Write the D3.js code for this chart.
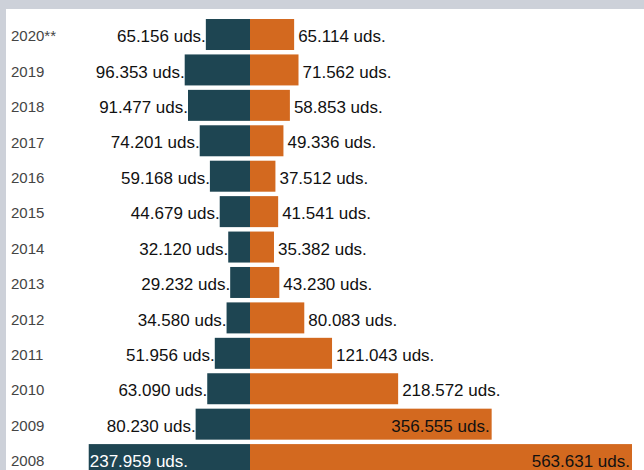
<!DOCTYPE html>
<html>
<head>
<meta charset="utf-8">
<script src="https://cdn.jsdelivr.net/npm/d3@7"></script>
<style>
  html, body { margin: 0; padding: 0; background: #cdd1d9; }
  svg { display: block; }
  text { font-family: "Liberation Sans", Arial, sans-serif; }
</style>
</head>
<body>
<svg id="chart" width="644" height="470"></svg>
<script>
const years = ['2020**', '2019', '2018', '2017', '2016', '2015', '2014', '2013', '2012', '2011', '2010', '2009', '2008'];
const leftValues = [65156, 96353, 91477, 74201, 59168, 44679, 32120, 29232, 34580, 51956, 63090, 80230, 237959];
const rightValues = [65114, 71562, 58853, 49336, 37512, 41541, 35382, 43230, 80083, 121043, 218572, 356555, 563631];

const darkColor = '#1e4552';
const orangeColor = '#d3691f';
const centerX = 250;

const rows = years.map((year, i) => ({ year, left: leftValues[i], right: rightValues[i] }));

const fmt = v => d3.format(',')(v).replace(/,/g, '.') + ' uds.';

const svg = d3.select('#chart');

// white panel
svg.append('rect')
  .attr('x', 6).attr('y', 9)
  .attr('width', 644).attr('height', 470)
  .attr('fill', '#fff');

const y = d3.scaleBand()
  .domain(years)
  .range([16.8, 477.3])
  .paddingInner(0.125)
  .paddingOuter(0.0625);

const w = d3.scaleLinear()
  .domain([0, 563631])
  .range([0, 382]);

const g = svg.selectAll('g.row')
  .data(rows)
  .join('g')
  .attr('class', 'row')
  .attr('transform', d => `translate(0,${y(d.year)})`);

const bh = y.bandwidth();

g.append('rect')
  .attr('x', d => centerX - w(d.left))
  .attr('width', d => w(d.left))
  .attr('height', bh)
  .attr('fill', darkColor);

g.append('rect')
  .attr('x', centerX)
  .attr('width', d => w(d.right))
  .attr('height', bh)
  .attr('fill', orangeColor);

// year labels
g.append('text')
  .attr('x', 11)
  .attr('y', bh / 2)
  .attr('dy', '0.45em')
  .attr('font-size', 15)
  .attr('fill', '#444')
  .text(d => d.year);

// left value labels
g.append('text')
  .attr('y', bh / 2)
  .attr('dy', '0.45em')
  .attr('font-size', 17)
  .each(function(d) {
    const inside = d.left > 200000;
    d3.select(this)
      .attr('x', inside ? centerX - w(d.left) + 1 : centerX - w(d.left))
      .attr('text-anchor', inside ? 'start' : 'end')
      .attr('fill', inside ? '#fff' : '#111');
  })
  .text(d => fmt(d.left));

// right value labels
g.append('text')
  .attr('y', bh / 2)
  .attr('dy', '0.45em')
  .attr('font-size', 17)
  .each(function(d) {
    const inside = d.right > 300000;
    d3.select(this)
      .attr('x', inside ? centerX + w(d.right) - 2 : centerX + w(d.right) + 4)
      .attr('text-anchor', inside ? 'end' : 'start')
      .attr('fill', '#111');
  })
  .text(d => fmt(d.right));
</script>
</body>
</html>
